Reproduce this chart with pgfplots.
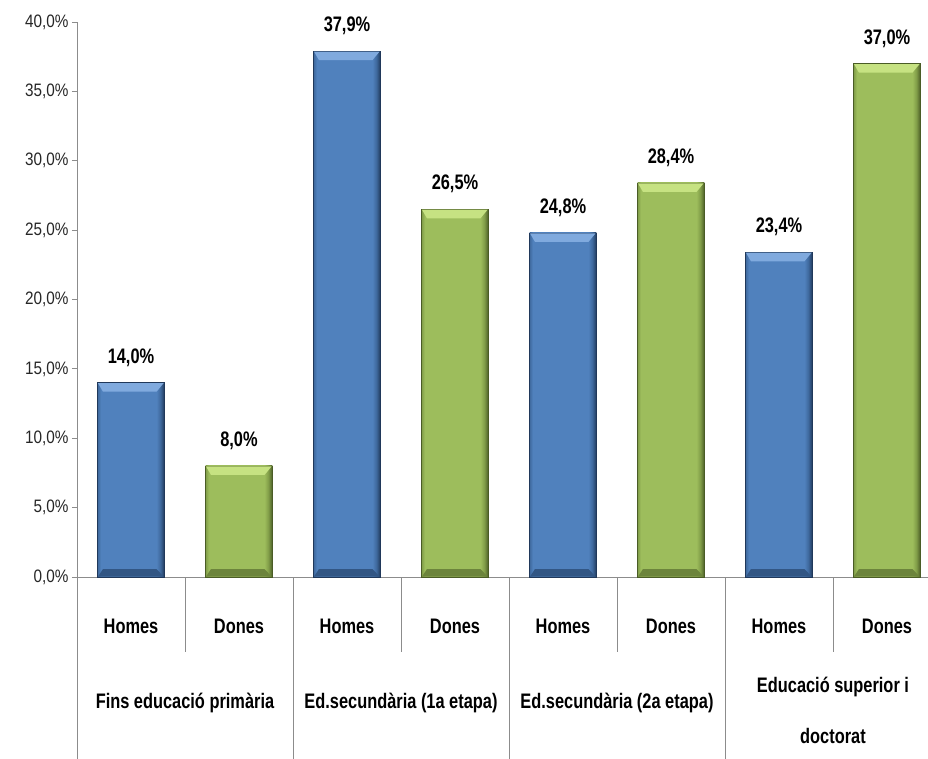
\documentclass[border=0pt]{standalone}
\usepackage{pgfplots}
\pgfplotsset{compat=1.18}
\usepackage{fontspec}
\setmainfont{Liberation Sans}[FakeStretch=0.85]
\newfontfamily\narrowbf{Liberation Sans}[FakeStretch=0.78]

\definecolor{blueM}{RGB}{80,129,189}
\definecolor{blueE}{RGB}{62,104,156}
\definecolor{blueD}{RGB}{32,56,90}
\definecolor{blueL}{RGB}{128,170,222}
\definecolor{blueB}{RGB}{50,86,132}
\definecolor{greenM}{RGB}{157,189,92}
\definecolor{greenE}{RGB}{128,156,72}
\definecolor{greenD}{RGB}{74,92,38}
\definecolor{greenL}{RGB}{198,226,130}
\definecolor{greenB}{RGB}{108,132,60}
\definecolor{axgray}{RGB}{140,140,140}

% bevel-like edges: the bar covers 25bp..75bp of the shading
\pgfdeclarehorizontalshading{blueH}{100bp}{color(0bp)=(blueE); color(25bp)=(blueE);
  color(27.5bp)=(blueM); color(69bp)=(blueM); color(72bp)=(blueE); color(75bp)=(blueD); color(100bp)=(blueD)}
\pgfdeclarehorizontalshading{greenH}{100bp}{color(0bp)=(greenE); color(25bp)=(greenE);
  color(27.5bp)=(greenM); color(69bp)=(greenM); color(72bp)=(greenE); color(75bp)=(greenD); color(100bp)=(greenD)}

% top highlight and bottom shadow of the bars (bar is about 67pt wide)
\pgfdeclareplotmark{bevtop}{%
  \pgfpathmoveto{\pgfpoint{-33pt}{-0.4pt}}\pgfpathlineto{\pgfpoint{32.6pt}{-0.4pt}}%
  \pgfpathlineto{\pgfpoint{25.5pt}{-9pt}}\pgfpathlineto{\pgfpoint{-28pt}{-9pt}}%
  \pgfpathclose\pgfusepathqfill}
\pgfdeclareplotmark{bevbot}{%
  \pgfpathmoveto{\pgfpoint{-33pt}{0.4pt}}\pgfpathlineto{\pgfpoint{32.6pt}{0.4pt}}%
  \pgfpathlineto{\pgfpoint{25.5pt}{8pt}}\pgfpathlineto{\pgfpoint{-28pt}{8pt}}%
  \pgfpathclose\pgfusepathqfill}

\newcommand{\lbl}{\narrowbf\bfseries\fontsize{21}{25}\selectfont}

\tikzset{sep/.style={axgray, line width=0.8pt}}
\pgfplotsset{
  valuelabels/.style={
    nodes near coords={\pgfmathprintnumber[fixed,fixed zerofill,precision=1,use comma]{\pgfplotspointmeta}\%},
    every node near coord/.append style={font=\lbl, text=black, inner sep=0pt, anchor=south, yshift=16pt}},
  homes/.style={ybar, bar width=0.62, bar shift=0pt, shading=blueH, draw=blueD, line width=0.5pt, valuelabels},
  dones/.style={ybar, bar width=0.62, bar shift=0pt, shading=greenH, draw=greenD, line width=0.5pt, valuelabels},
}

\begin{document}
\begin{tikzpicture}
\begin{axis}[
    name=ax,
    scale only axis,
    width=851pt, height=555pt,
    xmin=-0.5, xmax=7.38,
    ymin=0, ymax=40,
    axis lines*=left,
    axis line style={axgray, line width=0.8pt},
    clip=false,
    ytick={0,5,...,40},
    yticklabel={\pgfmathprintnumber[fixed,fixed zerofill,precision=1,use comma]{\tick}\%},
    /pgf/number format/assume math mode=true,
    yticklabel style={font=\fontsize{18}{21}\selectfont, text=black!85},
    ytick style={axgray, line width=0.8pt},
    tick align=outside,
    major tick length=5pt,
    xtick={0,...,7},
    xticklabels={Homes,Dones,Homes,Dones,Homes,Dones,Homes,Dones},
    x tick style={draw=none},
    xticklabel style={font=\lbl, anchor=base, yshift=-51pt},
]
% Homes
\addplot[homes] coordinates {(0,14.0)};
\addplot[homes] coordinates {(2,37.9)};
\addplot[homes] coordinates {(4,24.8)};
\addplot[homes] coordinates {(6,23.4)};
% Dones
\addplot[dones] coordinates {(1,8.0)};
\addplot[dones] coordinates {(3,26.5)};
\addplot[dones] coordinates {(5,28.4)};
\addplot[dones] coordinates {(7,37.0)};
% bevel highlights on the same bars
\addplot[only marks, mark=bevtop, color=blueL] coordinates {(0,14.0) (2,37.9) (4,24.8) (6,23.4)};
\addplot[only marks, mark=bevtop, color=greenL] coordinates {(1,8.0) (3,26.5) (5,28.4) (7,37.0)};
\addplot[only marks, mark=bevbot, color=blueB] coordinates {(0,0) (2,0) (4,0) (6,0)};
\addplot[only marks, mark=bevbot, color=greenB] coordinates {(1,0) (3,0) (5,0) (7,0)};

% separators below the axis
\draw[sep] (axis cs:0.5,0) -- ([yshift=-75pt]axis cs:0.5,0);
\draw[sep] (axis cs:2.5,0) -- ([yshift=-75pt]axis cs:2.5,0);
\draw[sep] (axis cs:4.5,0) -- ([yshift=-75pt]axis cs:4.5,0);
\draw[sep] (axis cs:6.5,0) -- ([yshift=-75pt]axis cs:6.5,0);
\draw[sep] (axis cs:-0.5,0) -- ([yshift=-182pt]axis cs:-0.5,0);
\draw[sep] (axis cs:1.5,0) -- ([yshift=-182pt]axis cs:1.5,0);
\draw[sep] (axis cs:3.5,0) -- ([yshift=-182pt]axis cs:3.5,0);
\draw[sep] (axis cs:5.5,0) -- ([yshift=-182pt]axis cs:5.5,0);

\node[font=\lbl, anchor=base] at ([yshift=-131pt]axis cs:0.5,0) {Fins educació primària};
\node[font=\lbl, anchor=base] at ([yshift=-131pt]axis cs:2.5,0) {Ed.secundària (1a etapa)};
\node[font=\lbl, anchor=base] at ([yshift=-131pt]axis cs:4.5,0) {Ed.secundària (2a etapa)};
\node[font=\lbl, anchor=base] at ([yshift=-115pt]axis cs:6.5,0) {Educació superior i};
\node[font=\lbl, anchor=base] at ([yshift=-166pt]axis cs:6.5,0) {doctorat};
\end{axis}
\pgfresetboundingbox
\path ([shift={(-77pt,-182pt)}]ax.south west) rectangle ++(928pt,759pt);
\end{tikzpicture}
\end{document}
